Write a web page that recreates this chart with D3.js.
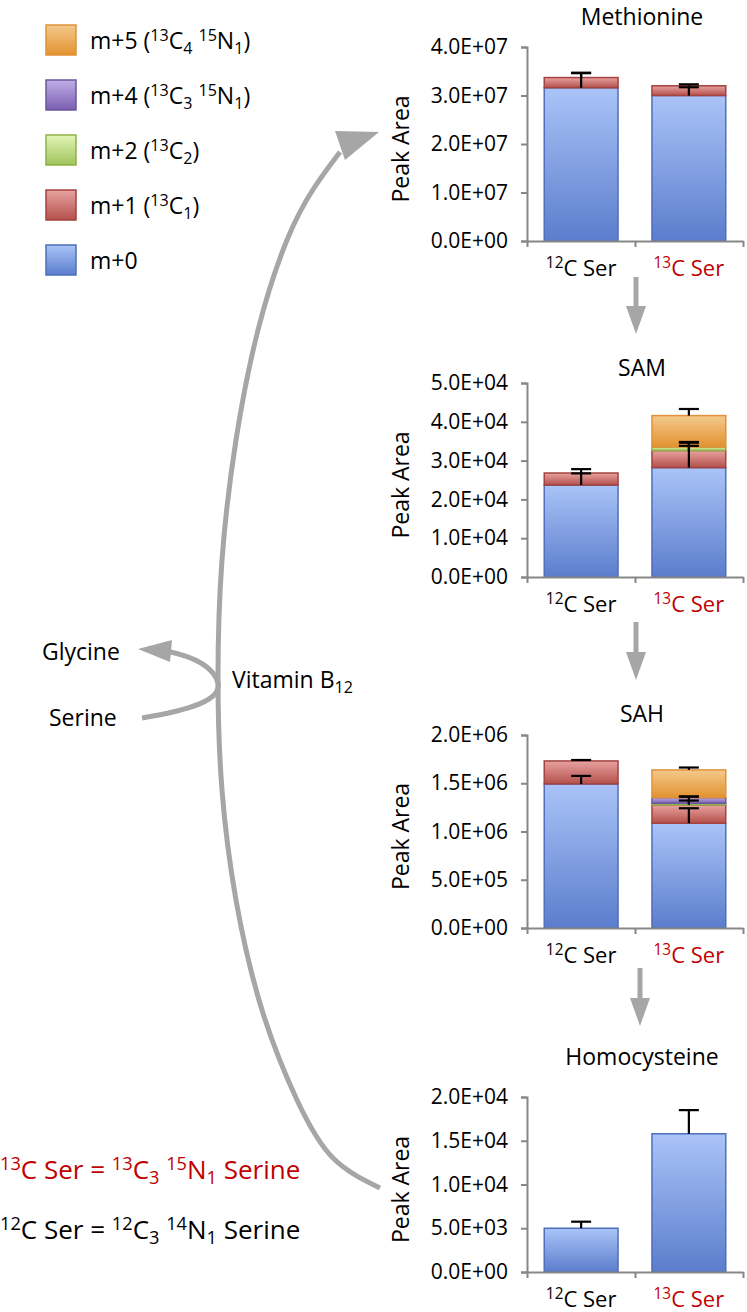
<!DOCTYPE html>
<html>
<head>
<meta charset="utf-8">
<script src="https://cdn.jsdelivr.net/npm/d3@7"></script>
<style>
  body { margin: 0; background: #fff; }
  svg text { font-family: 'Open Sans', sans-serif; white-space: pre; }
</style>
</head>
<body>
<div id="chart"></div>
<script>
// categories and series (rows follow isotopes order)
var categories = ["^12C Ser", "^13C Ser"];
var categoryColors = ["#000000", "#c00000"];
var isotopes = ["m+0", "m+1", "m+2", "m+4", "m+5"];
var legendLabels = ["m+5 (^13C_4 ^15N_1)", "m+4 (^13C_3 ^15N_1)", "m+2 (^13C_2)", "m+1 (^13C_1)", "m+0"];
var legendKeys = ["m+5", "m+4", "m+2", "m+1", "m+0"];
var titles = ["Methionine", "SAM", "SAH", "Homocysteine"];

var methionine    = [[3.16e7, 3.00e7], [0.21e7, 0.20e7], [0, 0], [0, 0], [0, 0]];
var methionineErr = [[0.30e7, 0.17e7], [0.10e7, 0.03e7], [0, 0], [0, 0], [0, 0]];
var methionineTicks = [0, 1e7, 2e7, 3e7, 4e7];

var sam    = [[2.37e4, 2.82e4], [0.31e4, 0.44e4], [0, 0.09e4], [0, 0], [0, 0.81e4]];
var samErr = [[0.30e4, 0.64e4], [0.10e4, 0.22e4], [0, 0.03e4], [0, 0], [0, 0.17e4]];
var samTicks = [0, 1e4, 2e4, 3e4, 4e4, 5e4];

var sah    = [[1.493e6, 1.086e6], [0.238e6, 0.19e6], [0, 0.017e6], [0, 0.058e6], [0, 0.287e6]];
var sahErr = [[0.083e6, 0.155e6], [0.01e6, 0.045e6], [0, 0.07e6], [0, 0.01e6], [0, 0.025e6]];
var sahTicks = [0, 5e5, 1e6, 1.5e6, 2e6];

var homocysteine    = [[0.50e4, 1.58e4], [0, 0], [0, 0], [0, 0], [0, 0]];
var homocysteineErr = [[0.075e4, 0.27e4], [0, 0], [0, 0], [0, 0], [0, 0]];
var homocysteineTicks = [0, 5e3, 1e4, 1.5e4, 2e4];

// fill gradient top / bottom and edge colour per isotope
var palette = {
  "m+0": ["#aac4f8", "#5b7dcc", "#4f6fbc"],
  "m+1": ["#e8a3a1", "#b4504c", "#a3423e"],
  "m+2": ["#e2f5b8", "#9fc35c", "#8fb14a"],
  "m+4": ["#bfaee6", "#7a5fb0", "#6d55a0"],
  "m+5": ["#f3c98c", "#e3922f", "#e0913a"]
};

var W = 747, H = 1312;
var svg = d3.select("#chart").append("svg").attr("width", W).attr("height", H);
var defs = svg.append("defs");
isotopes.forEach(function (k, i) {
  var g = defs.append("linearGradient").attr("id", "grad" + i)
    .attr("x1", 0).attr("y1", 0).attr("x2", 0).attr("y2", 1);
  g.append("stop").attr("offset", "0%").attr("stop-color", palette[k][0]);
  g.append("stop").attr("offset", "100%").attr("stop-color", palette[k][1]);
});

// text with ^sup and _sub digits
function rich(sel, str, size) {
  var parts = str.match(/\^\d+|_\d+|[^\^_]+/g);
  var off = 0;
  sel.attr("font-size", size);
  parts.forEach(function (p) {
    var shift = 0, t = p, fs = size;
    if (p[0] === "^") { shift = -0.36 * size; t = p.slice(1); fs = size * 0.7; }
    else if (p[0] === "_") { shift = 0.2 * size; t = p.slice(1); fs = size * 0.7; }
    sel.append("tspan").attr("dy", shift - off).attr("font-size", fs).text(t);
    off = shift;
  });
  return sel;
}

function sci(v) {
  var s = v.toExponential(1).toUpperCase();
  return s.replace(/E([+-])(\d)$/, "E$10$2");
}

var charts = [
  { values: methionine, err: methionineErr, ticks: methionineTicks, top: 47, bottom: 241, titleY: 25 },
  { values: sam, err: samErr, ticks: samTicks, top: 383, bottom: 577, titleY: 376 },
  { values: sah, err: sahErr, ticks: sahTicks, top: 735, bottom: 928, titleY: 722 },
  { values: homocysteine, err: homocysteineErr, ticks: homocysteineTicks, top: 1097, bottom: 1272, titleY: 1065 }
];

var left = 527, right = 743;
var x = d3.scaleBand().domain(categories).range([left, right]).paddingInner(0.315).paddingOuter(0.16);

charts.forEach(function (c, ci) {
  var g = svg.append("g");
  var y = d3.scaleLinear().domain([0, d3.max(c.ticks)]).range([c.bottom, c.top]);

  // stacked bars
  var tops = [];
  categories.forEach(function (cat, j) {
    var acc = 0;
    tops[j] = [];
    isotopes.forEach(function (k, i) {
      var v = c.values[i][j];
      var y0 = acc;
      acc += v;
      tops[j][i] = acc;
      if (v > 0) {
        g.append("rect")
          .attr("x", x(cat)).attr("width", x.bandwidth())
          .attr("y", y(acc)).attr("height", y(y0) - y(acc))
          .attr("fill", "url(#grad" + i + ")")
          .attr("stroke", palette[k][2]).attr("stroke-width", 1.5);
      }
    });
  });

  // error bars (plus side)
  categories.forEach(function (cat, j) {
    isotopes.forEach(function (k, i) {
      var e = c.err[i][j];
      if (!(e > 0)) return;
      var cx = x(cat) + x.bandwidth() / 2;
      var t = tops[j][i];
      g.append("line").attr("x1", cx).attr("x2", cx)
        .attr("y1", y(t)).attr("y2", y(t + e))
        .attr("stroke", "#000").attr("stroke-width", 2.2);
      g.append("line").attr("x1", cx - 10).attr("x2", cx + 10)
        .attr("y1", y(t + e)).attr("y2", y(t + e))
        .attr("stroke", "#000").attr("stroke-width", 2.2);
    });
  });

  // y axis
  var ya = g.append("g").attr("transform", "translate(" + left + ",0)")
    .call(d3.axisLeft(y).tickValues(c.ticks).tickFormat(sci).tickSize(6).tickPadding(13));
  ya.select(".domain").attr("stroke", "#878787").attr("stroke-width", 2);
  ya.selectAll(".tick line").attr("stroke", "#878787").attr("stroke-width", 2);
  ya.selectAll(".tick text").attr("font-size", 21).attr("fill", "#000")
    .style("font-family", "'Open Sans', sans-serif");

  // x axis with dividers at band edges
  var xd = d3.scaleLinear().domain([0, categories.length]).range([left, right]);
  var xa = g.append("g").attr("transform", "translate(0," + c.bottom + ")")
    .call(d3.axisBottom(xd).tickValues(d3.range(categories.length + 1)).tickFormat("").tickSize(6).tickSizeOuter(0));
  xa.select(".domain").attr("stroke", "#878787").attr("stroke-width", 2);
  xa.selectAll(".tick line").attr("stroke", "#878787").attr("stroke-width", 2);

  categories.forEach(function (cat, j) {
    var t = g.append("text")
      .attr("x", x(cat) + x.bandwidth() / 2).attr("y", c.bottom + 35)
      .attr("text-anchor", "middle").attr("fill", categoryColors[j]);
    rich(t, cat, 22);
  });

  g.append("text").attr("x", 642).attr("y", c.titleY)
    .attr("text-anchor", "middle").attr("font-size", 23).text(titles[ci]);

  var my = (c.top + c.bottom) / 2 + 5;
  g.append("text").attr("transform", "translate(409," + my + ") rotate(-90)")
    .attr("text-anchor", "middle").attr("font-size", 23).text("Peak Area");
});

// legend
var lg = svg.append("g");
legendKeys.forEach(function (k, i) {
  var idx = isotopes.indexOf(k);
  var yy = 25 + i * 55;
  lg.append("rect").attr("x", 46).attr("y", yy).attr("width", 30).attr("height", 30)
    .attr("fill", "url(#grad" + idx + ")").attr("stroke", palette[k][2]).attr("stroke-width", 1.5);
  rich(lg.append("text").attr("x", 90).attr("y", yy + 24), legendLabels[i], 23);
});

// pathway arrows
var grey = "#a6a6a6";
var curve = d3.line().curve(d3.curveNatural);
svg.append("path")
  .attr("d", curve([[380, 1188], [333, 1158], [297, 1100], [262, 1010], [236, 900], [222, 790],
                    [218, 680], [222, 560], [236, 440], [258, 330], [287, 240], [314, 188], [340, 152]]))
  .attr("fill", "none").attr("stroke", grey).attr("stroke-width", 5);
svg.append("path").attr("d", "M379,132 L335,131 L345,160 Z").attr("fill", grey);

svg.append("path")
  .attr("d", "M142,718 C190,710 222,700 218,683 C214,668 196,657 166,651")
  .attr("fill", "none").attr("stroke", grey).attr("stroke-width", 5);
svg.append("path").attr("d", "M138,649 L172,640 L170,662 Z").attr("fill", grey);

[[636, 277, 334], [636, 622, 680], [640, 968, 1026]].forEach(function (a) {
  svg.append("line").attr("x1", a[0]).attr("x2", a[0]).attr("y1", a[1]).attr("y2", a[2] - 24)
    .attr("stroke", grey).attr("stroke-width", 5);
  svg.append("path").attr("d", "M" + (a[0] - 10) + "," + (a[2] - 28) + " L" + (a[0] + 10) + "," + (a[2] - 28) +
    " L" + a[0] + "," + a[2] + " Z").attr("fill", grey);
});

// side labels
svg.append("text").attr("x", 42).attr("y", 660).attr("font-size", 23).text("Glycine");
svg.append("text").attr("x", 49).attr("y", 726).attr("font-size", 23).text("Serine");
rich(svg.append("text").attr("x", 232).attr("y", 688), "Vitamin B_12", 23);

rich(svg.append("text").attr("x", 0).attr("y", 1179).attr("fill", "#c00000"), "^13C Ser = ^13C_3 ^15N_1 Serine", 26);
rich(svg.append("text").attr("x", 0).attr("y", 1239), "^12C Ser = ^12C_3 ^14N_1 Serine", 26);
</script>
</body>
</html>
